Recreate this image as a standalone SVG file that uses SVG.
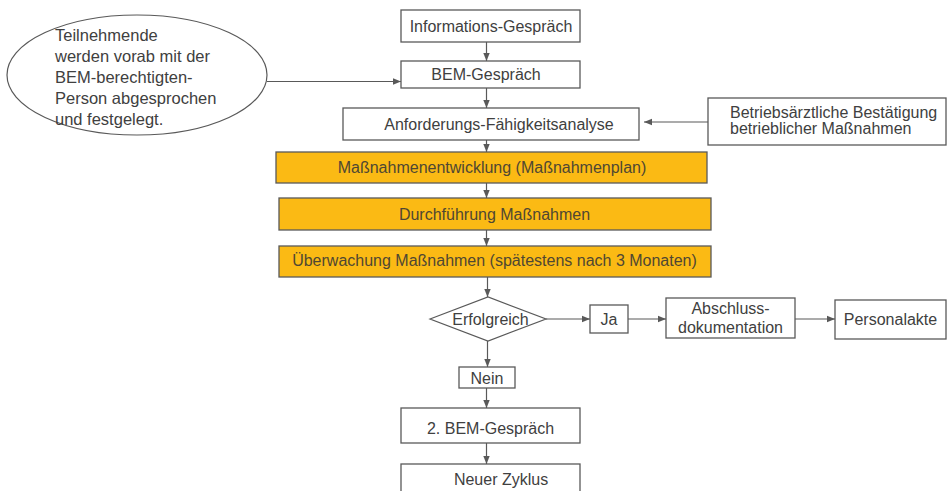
<svg xmlns="http://www.w3.org/2000/svg" width="948" height="491" viewBox="0 0 948 491">
<defs>
<style>
.box{fill:#fff;stroke:#595959;stroke-width:1.3}
.obox{fill:#FBBA14;stroke:#595959;stroke-width:1.3}
.t{font-family:"Liberation Sans",Arial,sans-serif;font-size:16px;fill:#404040}
.et{font-size:16.5px}
.ot{font-family:"Liberation Sans",Arial,sans-serif;font-size:16px;fill:#4f4733}
.c{text-anchor:middle}
.ln{stroke:#595959;stroke-width:1.2;fill:none;marker-end:url(#ah)}
</style>
<marker id="ah" viewBox="0 0 8 8" refX="8" refY="4" markerWidth="8" markerHeight="8" markerUnits="userSpaceOnUse" orient="auto">
<path d="M0,0.8 L8,4 L0,7.2 Z" fill="#595959"/>
</marker>
</defs>
<rect width="948" height="491" fill="#fff"/>

<g id="connectors">
<line class="ln" x1="486.5" y1="42" x2="486.5" y2="61"/>
<line class="ln" x1="267" y1="81.5" x2="401" y2="81.5"/>
<line class="ln" x1="486.5" y1="88" x2="486.5" y2="108"/>
<line class="ln" x1="708" y1="122" x2="644" y2="122"/>
<line class="ln" x1="486.5" y1="140" x2="486.5" y2="152"/>
<line class="ln" x1="486.5" y1="183" x2="486.5" y2="198"/>
<line class="ln" x1="486.5" y1="230" x2="486.5" y2="246"/>
<line class="ln" x1="487.5" y1="277" x2="487.5" y2="297"/>
<line class="ln" x1="546" y1="319" x2="590" y2="319"/>
<line class="ln" x1="628" y1="319" x2="666" y2="319"/>
<line class="ln" x1="795" y1="319" x2="835" y2="319"/>
<line class="ln" x1="487.5" y1="341" x2="487.5" y2="367"/>
<line class="ln" x1="486.5" y1="388" x2="486.5" y2="408"/>
<line class="ln" x1="486.5" y1="443" x2="486.5" y2="464"/>
</g>

<g id="ellipse-note">
<ellipse cx="137" cy="75" rx="130" ry="60" fill="#fff" stroke="#595959" stroke-width="1.2"/>
<text class="t et" x="55" y="41">Teilnehmende</text>
<text class="t et" x="55" y="62">werden vorab mit der</text>
<text class="t et" x="55" y="83">BEM-berechtigten-</text>
<text class="t et" x="55" y="104">Person abgesprochen</text>
<text class="t et" x="55" y="125">und festgelegt.</text>
</g>

<g id="informationsgespraech">
<rect class="box" x="401" y="10" width="179" height="32"/>
<text class="t c" x="491" y="32">Informations-Gespräch</text>
</g>

<g id="bemgespraech">
<rect class="box" x="401" y="61" width="179" height="27"/>
<text class="t c" x="486" y="80">BEM-Gespräch</text>
</g>

<g id="anforderungen">
<rect class="box" x="343" y="108" width="296" height="32"/>
<text class="t c" x="499" y="130">Anforderungs-Fähigkeitsanalyse</text>
</g>

<g id="betriebsarzt">
<rect class="box" x="708" y="98" width="238" height="47"/>
<text class="t" x="730" y="118">Betriebsärztliche Bestätigung</text>
<text class="t" x="730" y="134">betrieblicher Maßnahmen</text>
</g>

<g id="massnahmenentwicklung">
<rect class="obox" x="276" y="152" width="431" height="31"/>
<text class="ot c" x="492" y="173">Maßnahmenentwicklung (Maßnahmenplan)</text>
</g>

<g id="durchfuehrung">
<rect class="obox" x="279" y="198" width="432" height="32"/>
<text class="ot c" x="494.5" y="220">Durchführung Maßnahmen</text>
</g>

<g id="ueberwachung">
<rect class="obox" x="279" y="246" width="432" height="31"/>
<text class="ot c" x="494.5" y="266">Überwachung Maßnahmen (spätestens nach 3 Monaten)</text>
</g>

<g id="erfolgreich">
<polygon points="430,319 488,297 546,319 488,341" fill="#fff" stroke="#595959" stroke-width="1.2"/>
<text class="t c" x="490.5" y="325">Erfolgreich</text>
</g>

<g id="ja">
<rect class="box" x="590" y="305" width="38" height="28"/>
<text class="t c" x="609" y="325">Ja</text>
</g>

<g id="abschluss">
<rect class="box" x="666" y="298" width="129" height="40"/>
<text class="t c" x="730.5" y="314">Abschluss-</text>
<text class="t c" x="730.5" y="333">dokumentation</text>
</g>

<g id="personalakte">
<rect class="box" x="835" y="300" width="111" height="39"/>
<text class="t c" x="890.5" y="325">Personalakte</text>
</g>

<g id="nein">
<rect class="box" x="459" y="367" width="56" height="21"/>
<text class="t c" x="487" y="384">Nein</text>
</g>

<g id="bemgespraech2">
<rect class="box" x="401" y="408" width="179" height="35"/>
<text class="t c" x="490.5" y="434">2. BEM-Gespräch</text>
</g>

<g id="neuerzyklus">
<rect class="box" x="401" y="464" width="179" height="40"/>
<text class="t c" x="501" y="485">Neuer Zyklus</text>
</g>
</svg>
